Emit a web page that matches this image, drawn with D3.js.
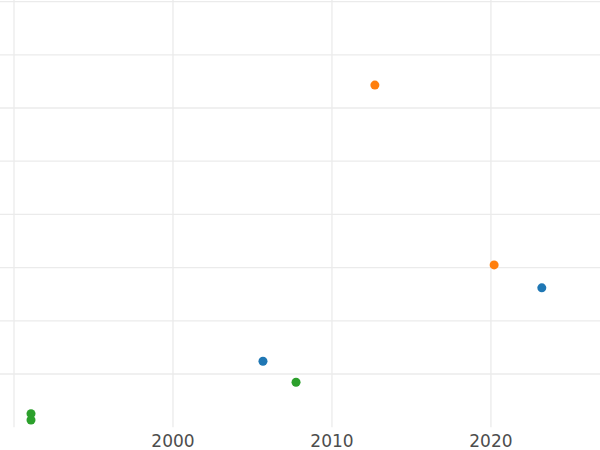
<!DOCTYPE html>
<style>
  body { margin: 0; background: #fff; }
  .tick-label { font: 17px "DejaVu Sans", sans-serif; fill: #4d4d4d; }
</style>
<svg width="600" height="450"></svg>
<script src="https://d3js.org/d3.v7.min.js"></script>
<script>

// data
var groups = ["blue", "orange", "green"];
var years  = [2005.66, 2023.2, 2012.7, 2020.2, 1991.07, 1991.07, 2007.74];
var values = [12.4,    26.2,   64.3,   30.5,   2.55,    1.35,    8.45];
var series = [0,       0,      1,      1,      2,       2,       2];
var xTicks = [1990, 2000, 2010, 2020];
var xLabels = ["", "2000", "2010", "2020"];
var yTicks = [10, 20, 30, 40, 50, 60, 70, 80];

var svg = d3.select("svg"),
    width = +svg.attr("width"),
    panelBottom = 427.2;

var x = d3.scaleLinear()
    .domain([1989.12, 2026.86])
    .range([0, width]);

var y = d3.scaleLinear()
    .domain([0, 80.3])
    .range([panelBottom, 0]);

var color = d3.scaleOrdinal()
    .domain([0, 1, 2])
    .range(["#1f77b4", "#ff7f0e", "#2ca02c"]);

var grid = svg.append("g")
    .attr("stroke", "#ebebeb")
    .attr("stroke-width", 1.3);

grid.selectAll("line.h").data(yTicks)
  .enter().append("line")
    .attr("class", "h")
    .attr("x1", 0)
    .attr("x2", width)
    .attr("y1", function(d) { return y(d); })
    .attr("y2", function(d) { return y(d); });

grid.selectAll("line.v").data(xTicks)
  .enter().append("line")
    .attr("class", "v")
    .attr("x1", function(d) { return x(d); })
    .attr("x2", function(d) { return x(d); })
    .attr("y1", 0)
    .attr("y2", panelBottom);

svg.append("g").selectAll("text").data(xTicks)
  .enter().append("text")
    .attr("class", "tick-label")
    .attr("x", function(d) { return x(d); })
    .attr("y", 447)
    .attr("text-anchor", "middle")
    .text(function(d, i) { return xLabels[i]; });

var pts = years.map(function(yr, i) {
  return {year: yr, value: values[i], s: series[i]};
});

svg.append("g").selectAll("circle").data(pts)
  .enter().append("circle")
    .attr("cx", function(d) { return x(d.year); })
    .attr("cy", function(d) { return y(d.value); })
    .attr("r", 4.5)
    .attr("fill", function(d) { return color(d.s); });

</script>
